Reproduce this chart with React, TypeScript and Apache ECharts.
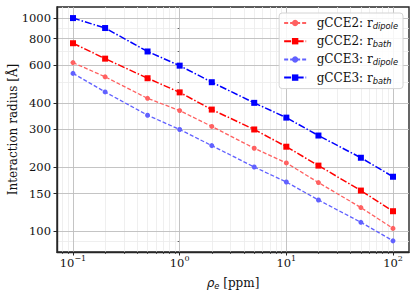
import React, { useEffect, useRef } from "react";
import * as echarts from "echarts";

const xVals = [0.1, 0.2, 0.5, 1, 2, 5, 10, 20, 50, 100];
const gcce2Dipole = [618, 530, 420, 368, 310, 245, 209, 169, 129, 103];
const gcce2Bath = [762, 645, 522, 448, 372, 300, 249, 203, 155, 124];
const gcce3Dipole = [550, 450, 350, 300, 252, 200, 170, 140, 110, 90];
const gcce3Bath = [1000, 898, 697, 598, 500, 400, 341, 281, 221, 180];

const seriesNames = [
  "gCCE2: r_dipole",
  "gCCE2: r_bath",
  "gCCE3: r_dipole",
  "gCCE3: r_bath",
];

const xMajorTicks = [0.1, 1, 10, 100];
const xMinorTicks = [
  0.08, 0.09, 0.2, 0.3, 0.4, 0.5, 0.6, 0.7, 0.8, 0.9, 2, 3, 4, 5, 6, 7, 8, 9,
  20, 30, 40, 50, 60, 70, 80, 90,
];
const yMajorTicks = [100, 150, 200, 300, 400, 600, 800, 1000];
const yMinorTicks = [80, 90, 500, 700, 900];

const SERIF = "DejaVu Serif";
const SANS = "DejaVu Sans";
const X_MIN = -1.15;
const X_MAX = 2.15;
const Y_MIN = 1.902;
const Y_MAX = 3.052;

const lg = (v: number) => Math.log10(v);

export default function App() {
  const ref = useRef<HTMLDivElement>(null);
  useEffect(() => {
    if (!ref.current) return;
    const chart = echarts.init(ref.current, null, { renderer: "svg" });
    const spine = "#262626";
    const major = "#bdbdbd";
    const minor = "#ebebeb";

    const mk = (
      name: string,
      ys: number[],
      color: string,
      symbol: string,
      size: number,
      dash: number[],
      width: number
    ) => ({
      name,
      type: "line",
      xAxisIndex: 0,
      yAxisIndex: 0,
      data: xVals.map((x, i) => [lg(x), lg(ys[i])]),
      symbol,
      symbolSize: size,
      showSymbol: true,
      lineStyle: { color, width, type: dash },
      itemStyle: { color },
      z: 3,
    });

    const supFmt = (v: number) => {
      const e = Math.round(v);
      const s = e < 0 ? "\u2212" + -e : String(e);
      return `{b|10}{sup|${s}}`;
    };

    const legendRich = {
      t: { fontFamily: SERIF, fontSize: 12, color: "#111", lineHeight: 14 },
      s: {
        fontFamily: SANS,
        fontStyle: "italic",
        fontSize: 8.3,
        color: "#111",
        lineHeight: 6,
        verticalAlign: "bottom",
      },
    };

    chart.setOption({
      animation: false,
      grid: {
        left: 57,
        right: 7,
        top: 7,
        bottom: 41,
        show: true,
        borderColor: spine,
        borderWidth: 1.4,
        backgroundColor: "transparent",
        outerBoundsMode: "none",
      },
      legend: {
        orient: "vertical",
        right: 13,
        top: 13,
        itemWidth: 22,
        itemHeight: 8,
        itemGap: 5.2,
        padding: [4, 5, 4, 4],
        backgroundColor: "rgba(255,255,255,0.85)",
        borderColor: "#d4d4d4",
        borderWidth: 1,
        borderRadius: 3,
        data: seriesNames,
        formatter: (n: string) => {
          const [head, sub] = n.split("_");
          return `{t|${head}}{s|${sub}}`;
        },
        textStyle: { rich: legendRich, padding: [0, 0, 0, 5.5] },
      },
      xAxis: [
        {
          type: "value",
          min: X_MIN,
          max: X_MAX,
          position: "bottom",
          name: "{r|ρ}{e|e}{t| [ppm]}",
          nameLocation: "middle",
          nameGap: 24,
          nameMoveOverlap: false,
          nameTextStyle: {
            rich: {
              r: { fontFamily: SANS, fontStyle: "italic", fontSize: 12, color: "#111", lineHeight: 14 },
              e: { fontFamily: SANS, fontStyle: "italic", fontSize: 8.3, color: "#111", lineHeight: 6, verticalAlign: "bottom" },
              t: { fontFamily: SERIF, fontSize: 12, color: "#111", lineHeight: 14 },
            },
          },
          axisLine: { show: true, onZero: false, lineStyle: { color: spine, width: 1.4 } },
          axisTick: {
            show: true,
            inside: false,
            length: 3.5,
            customValues: xMajorTicks.map(lg),
            lineStyle: { color: spine, width: 1 },
          },
          axisLabel: {
            customValues: xMajorTicks.map(lg),
            formatter: supFmt,
            margin: 2.5,
            rich: {
              b: { fontFamily: SERIF, fontSize: 11.5, color: "#111", lineHeight: 14.6, verticalAlign: "bottom" },
              sup: { fontFamily: SERIF, fontSize: 8, color: "#111", lineHeight: 8, verticalAlign: "top" },
            },
          },
          splitLine: { show: true, lineStyle: { color: major, width: 0.9 } },
          z: 2,
        },
        {
          type: "value",
          min: X_MIN,
          max: X_MAX,
          position: "bottom",
          axisLine: { show: false },
          axisTick: {
            show: true,
            inside: false,
            length: 2,
            customValues: xMinorTicks.map(lg),
            lineStyle: { color: spine, width: 0.7 },
          },
          axisLabel: { show: false },
          splitLine: { show: true, lineStyle: { color: minor, width: 0.8 } },
          z: 1,
        },
      ],
      yAxis: [
        {
          type: "value",
          min: Y_MIN,
          max: Y_MAX,
          position: "left",
          name: "Interaction radius [Å]",
          nameLocation: "middle",
          nameGap: 37,
          nameMoveOverlap: false,
          nameTextStyle: { fontFamily: SERIF, fontSize: 12, color: "#111", lineHeight: 14 },
          axisLine: { show: true, onZero: false, lineStyle: { color: spine, width: 1.4 } },
          axisTick: {
            show: true,
            inside: false,
            length: 3.5,
            customValues: yMajorTicks.map(lg),
            lineStyle: { color: spine, width: 1 },
          },
          axisLabel: {
            customValues: yMajorTicks.map(lg),
            formatter: (v: number) => String(Math.round(Math.pow(10, v))),
            margin: 6,
            fontFamily: SERIF,
            fontSize: 11.5,
            color: "#111",
          },
          splitLine: { show: true, lineStyle: { color: major, width: 0.9 } },
          z: 2,
        },
        {
          type: "value",
          min: Y_MIN,
          max: Y_MAX,
          position: "left",
          axisLine: { show: false },
          axisTick: {
            show: true,
            inside: false,
            length: 2,
            customValues: yMinorTicks.map(lg),
            lineStyle: { color: spine, width: 0.7 },
          },
          axisLabel: { show: false },
          splitLine: { show: true, lineStyle: { color: minor, width: 0.8 } },
          z: 1,
        },
      ],
      series: [
        mk(seriesNames[0], gcce2Dipole, "#ff6161", "circle", 5, [4, 2], 1.3),
        mk(seriesNames[1], gcce2Bath, "#ff0000", "rect", 6, [7, 2, 1.5, 2], 1.5),
        mk(seriesNames[2], gcce3Dipole, "#6161ff", "circle", 5, [4, 2], 1.3),
        mk(seriesNames[3], gcce3Bath, "#0000ff", "rect", 6, [7, 2, 1.5, 2], 1.5),
      ],
    });
    return () => chart.dispose();
  }, []);
  return <div ref={ref} style={{ width: 416, height: 293, position: "absolute", left: 0, top: 0 }} />;
}
